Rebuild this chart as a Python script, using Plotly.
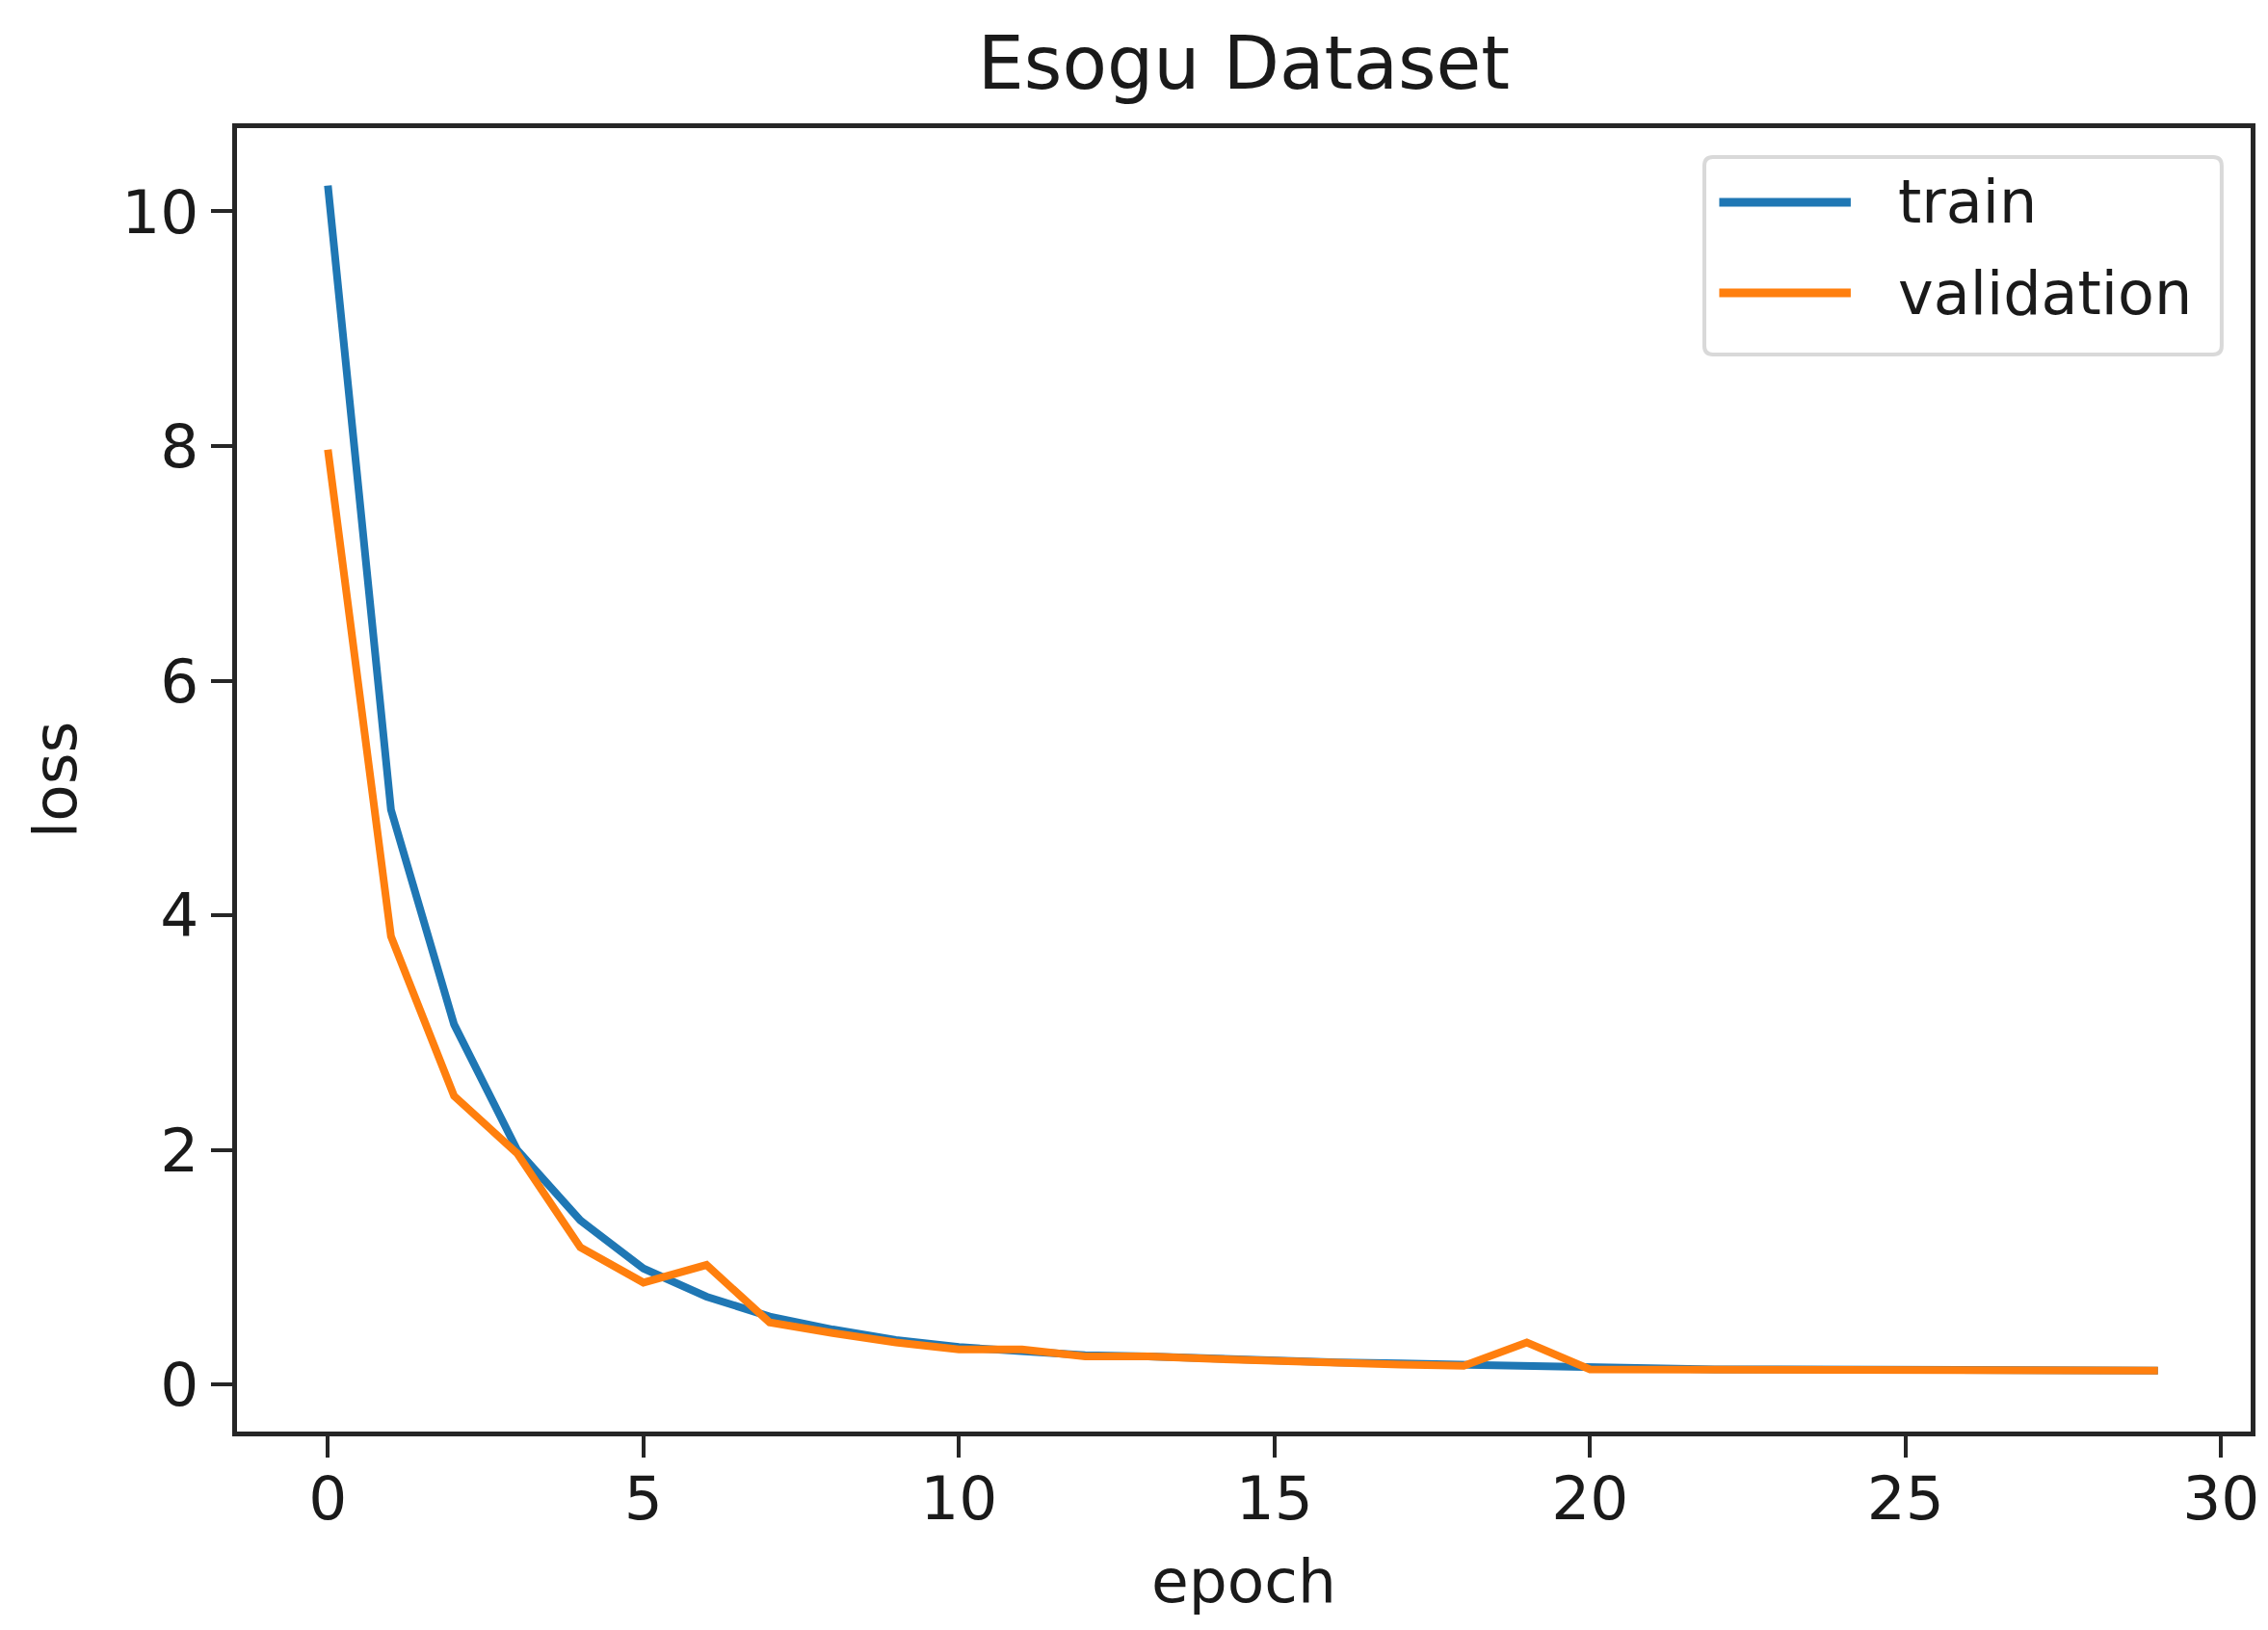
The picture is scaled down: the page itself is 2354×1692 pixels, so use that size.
import plotly.graph_objects as go

epochs = list(range(30))
train_loss = [10.22, 4.9, 3.07, 2.0, 1.4, 0.99, 0.75, 0.58, 0.47, 0.38,
              0.32, 0.28, 0.25, 0.24, 0.22, 0.21, 0.19, 0.18, 0.17, 0.16,
              0.14, 0.14, 0.13, 0.13, 0.13, 0.13, 0.12, 0.12, 0.12, 0.12]
val_loss = [7.97, 3.82, 2.46, 1.97, 1.17, 0.87, 1.02, 0.53, 0.44, 0.36,
            0.30, 0.30, 0.24, 0.24, 0.22, 0.20, 0.18, 0.17, 0.16, 0.36,
            0.13, 0.13, 0.13, 0.13, 0.12, 0.12, 0.12, 0.12, 0.12, 0.12]
series_names = ["train", "validation"]
colors = ["#1f77b4", "#ff7f0e"]

FONT = "DejaVu Sans"
TXT = "#1a1a1a"
FS = 63

fig = go.Figure()
for name, ys, c in zip(series_names, [train_loss, val_loss], colors):
    fig.add_trace(go.Scatter(x=epochs, y=ys, mode="lines", name=name,
                             line=dict(color=c, width=8), showlegend=False))

axis_common = dict(showline=True, linecolor="#262626", linewidth=5, mirror=True,
                   ticks="outside", ticklen=22, tickwidth=4, tickcolor="#262626",
                   showgrid=False, zeroline=False,
                   tickfont=dict(family=FONT, size=FS, color=TXT))

fig.update_xaxes(range=[-1.44, 30.47], tickmode="linear", tick0=0, dtick=5,
                 ticklabelstandoff=-12,
                 title=dict(text="epoch", font=dict(family=FONT, size=FS, color=TXT), standoff=30),
                 **axis_common)
fig.update_yaxes(range=[-0.40, 10.71], tickmode="linear", tick0=0, dtick=2,
                 ticklabelstandoff=0,
                 title=dict(text="loss", font=dict(family=FONT, size=FS, color=TXT), standoff=28),
                 **axis_common)

# legend emulating matplotlib's framed legend (rounded frame)
lx0, lx1, ly0, ly1 = 0.7287, 0.9856, 0.8263, 0.9778
rx, ry = 9 / 2090, 9 / 1353
path = (f"M {lx0+rx},{ly0} L {lx1-rx},{ly0} Q {lx1},{ly0} {lx1},{ly0+ry} "
        f"L {lx1},{ly1-ry} Q {lx1},{ly1} {lx1-rx},{ly1} "
        f"L {lx0+rx},{ly1} Q {lx0},{ly1} {lx0},{ly1-ry} "
        f"L {lx0},{ly0+ry} Q {lx0},{ly0} {lx0+rx},{ly0} Z")
fig.add_shape(type="path", xref="paper", yref="paper", path=path,
              line=dict(color="#d9d9d9", width=4), fillcolor="rgba(255,255,255,0.8)", layer="above")
row_y = [0.9431, 0.8736]
for name, c, yy in zip(series_names, colors, row_y):
    fig.add_shape(type="line", xref="paper", yref="paper", x0=0.7361, x1=0.8014, y0=yy, y1=yy,
                  line=dict(color=c, width=9), layer="above")
    fig.add_annotation(xref="paper", yref="paper", x=0.8237, y=yy, text=name, showarrow=False,
                       xanchor="left", yanchor="middle",
                       font=dict(family=FONT, size=62, color=TXT))

fig.update_layout(
    width=2354, height=1692,
    margin=dict(l=238, r=26, t=125, b=214),
    paper_bgcolor="white", plot_bgcolor="white",
    title=dict(text="Esogu Dataset", x=(238 + 2328) / 2 / 2354, xanchor="center",
               y=1 - 57 / 1692, yanchor="middle",
               font=dict(family=FONT, size=76, color=TXT)),
)

fig.write_html("out.html")
